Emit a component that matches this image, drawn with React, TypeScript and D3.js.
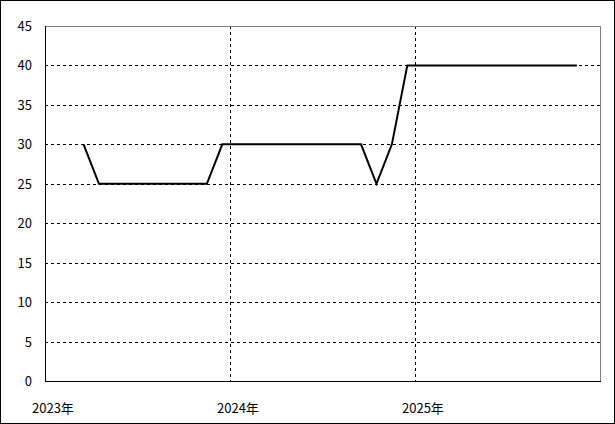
import React, { useEffect } from "react";
import * as d3 from "d3";

const months = [
  "2023-03", "2023-04", "2023-05", "2023-06", "2023-07", "2023-08", "2023-09", "2023-10", "2023-11", "2023-12",
  "2024-01", "2024-02", "2024-03", "2024-04", "2024-05", "2024-06", "2024-07", "2024-08", "2024-09", "2024-10", "2024-11", "2024-12",
  "2025-01", "2025-02", "2025-03", "2025-04", "2025-05", "2025-06", "2025-07", "2025-08", "2025-09", "2025-10", "2025-11",
];
const values = [
  30, 25, 25, 25, 25, 25, 25, 25, 25, 30,
  30, 30, 30, 30, 30, 30, 30, 30, 30, 25, 30, 40,
  40, 40, 40, 40, 40, 40, 40, 40, 40, 40, 40,
];
const yearLabels = ["2023年", "2024年", "2025年"];
const yTicks = [0, 5, 10, 15, 20, 25, 30, 35, 40, 45];

const W = 615;
const H = 424;
const left = 45;
const right = 600;
const top = 26;
const bottom = 381;
const startYear = 2023;

const monthIndex = (m: string) => {
  const [y, mo] = m.split("-").map(Number);
  return (y - startYear) * 12 + (mo - 1);
};

export default function App() {
  useEffect(() => {
    document.body.style.margin = "0";
  }, []);

  const x = d3.scaleLinear().domain([0, 36]).range([left, right]);
  const y = d3.scaleLinear().domain([0, 45]).range([bottom, top]);

  const pts = months.map((m, i) => [x(monthIndex(m) + 0.5), y(values[i])] as [number, number]);
  const line = d3.line()(pts) || "";

  const font = "'Noto Sans CJK JP', 'Liberation Sans', sans-serif";

  return (
    <svg width={W} height={H} style={{ display: "block" }} fontFamily={font}>
      <rect x={0} y={0} width={W} height={H} fill="#fff" />
      <rect x={0.5} y={0.5} width={W - 1} height={H - 1} fill="none" stroke="#000" />
      {/* horizontal gridlines */}
      {yTicks.filter((t) => t > 0 && t < 45).map((t) => (
        <line key={"h" + t} x1={left} x2={right} y1={Math.round(y(t)) + 0.5} y2={Math.round(y(t)) + 0.5}
          stroke="#000" strokeDasharray="3,3" />
      ))}
      {/* vertical gridlines */}
      {yearLabels.slice(1).map((_, i) => {
        const xv = Math.round(x((i + 1) * 12)) + 0.5;
        return <line key={"v" + i} x1={xv} x2={xv} y1={top} y2={bottom} stroke="#000" strokeDasharray="3,3" />;
      })}
      {/* frame */}
      <line x1={left} x2={right + 0.5} y1={top + 0.5} y2={top + 0.5} stroke="#808080" />
      <line x1={right + 0.5} x2={right + 0.5} y1={top} y2={bottom} stroke="#808080" />
      <line x1={left + 0.5} x2={left + 0.5} y1={top} y2={bottom + 1} stroke="#000" />
      <line x1={left} x2={right + 1} y1={bottom + 0.5} y2={bottom + 0.5} stroke="#000" />
      {/* y labels */}
      {yTicks.map((t) => (
        <text key={"yl" + t} x={32} y={y(t) + 5} textAnchor="end" fontSize={13} fill="#000">{t}</text>
      ))}
      {/* x labels */}
      {yearLabels.map((l, i) => (
        <text key={"xl" + i} x={x(i * 12) - 13} y={413} textAnchor="start" fontSize={13} fill="#000">{l}</text>
      ))}
      <path d={line} fill="none" stroke="#000" strokeWidth={2} />
    </svg>
  );
}
